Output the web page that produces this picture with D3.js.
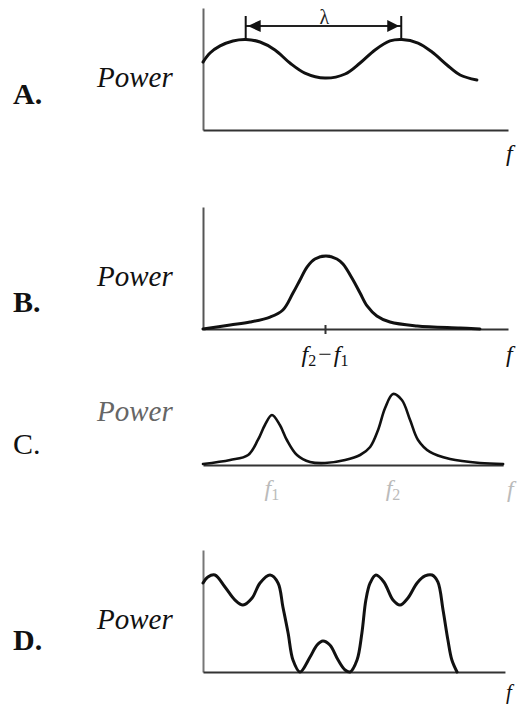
<!DOCTYPE html>
<html><head><meta charset="utf-8">
<script src="https://cdn.jsdelivr.net/npm/d3@7"></script>
<style>
html,body{margin:0;padding:0;background:#fff;}
svg{display:block;}
</style></head><body>
<svg id="chart" width="517" height="704"></svg>
<script>
// ---- data: frequency (arbitrary units, 0–100) and relative power (0–100) ----

// A. broad spectrum with a periodic ripple of wavelength λ
const freqA  = [0, 2.3, 5.6, 9.8, 14.1, 18.7, 23.6, 28.5, 33.4, 40, 46.6, 51.5, 56.4, 61.3, 65.2, 70.5, 75.1, 80, 84.3, 89.8];
const powerA = [55.7, 63.1, 68.9, 73.0, 74.2, 72.1, 65.6, 54.9, 46.7, 42.6, 45.9, 54.9, 65.6, 73.0, 74.2, 71.3, 63.9, 53.3, 45.1, 41.0];
const lambdaSpan = [14, 65];

// B. single peak at the difference frequency f2 − f1
const freqB  = [0, 8.9, 15.4, 22.0, 26.2, 29.5, 31.8, 34.1, 36.7, 40.3, 43.9, 45.9, 49.2, 51.5, 53.8, 57.0, 61.3, 70.2, 84.3, 90.8];
const powerB = [0, 3.3, 5.7, 9.8, 15.6, 29.5, 40.2, 50.8, 57.4, 59.8, 57.4, 53.3, 40.2, 29.5, 18.9, 10.7, 5.7, 2.5, 0.8, 0];
const ticksB = [40];

// C. two source lines at f1 and f2
const freqC  = [0, 8.9, 14.8, 18.0, 20.3, 22.6, 25.2, 27.5, 30.8, 35.1, 40.0, 46.6, 51.5, 54.8, 57.4, 59.7, 62.3, 65.2, 67.9, 70.5, 74.4, 81.0, 90.8, 98.4];
const powerC = [0.8, 4.1, 8.2, 20.5, 32.8, 41.0, 32.8, 20.5, 8.2, 2.5, 1.6, 4.1, 8.2, 14.8, 28.7, 46.7, 58.2, 53.3, 36.9, 20.5, 10.7, 4.9, 1.6, 0.8];
const ticksC = [22.6, 62.3];

// D. two ripple bands separated by a small central bump
const freqD  = [0, 1.6, 3.9, 7.2, 10.5, 13.1, 16.1, 18.7, 22.0, 24.6, 26.2, 27.9, 29.5, 31.8, 35.1, 37.4, 39.3, 41.6, 44.3, 46.6, 48.2, 50.5, 52.1, 53.4, 54.8, 56.7, 59.3, 62.3, 64.6, 67.2, 70.2, 72.8, 75.1, 77.0, 78.7, 80.3, 81.6, 83.3];
const powerD = [73.0, 77.9, 79.5, 69.7, 59.0, 54.9, 60.7, 73.0, 79.5, 73.0, 53.3, 32.0, 9.8, 0, 12.3, 22.1, 25.4, 22.1, 9.8, 1.6, 0, 9.8, 32.0, 59.0, 73.0, 79.5, 73.8, 59.0, 54.9, 60.7, 73.0, 78.7, 79.5, 73.8, 50.8, 26.2, 9.8, 0];

// labels
const panelLetters = ["A.", "B.", "C.", "D."];
const yLabel = "Power";
const xLabel = "f";
const lambdaLabel = "λ";

// ---- layout ----
const svg = d3.select("#chart");
const font = "'Liberation Serif', 'DejaVu Serif', serif";
const x = d3.scaleLinear().domain([0, 100]).range([203, 508]);
const panelH = 122;

const panels = [
  {letter: panelLetters[0], f: freqA, p: powerA, axisY: 130, yAxis: true, axisEnd: 100, bold: true,
   letterY: 104, labelY: 87, fY: 161, fX: 506, labelColor: "#111", yAxisColor: "#666"},
  {letter: panelLetters[1], f: freqB, p: powerB, axisY: 329, yAxis: true, axisEnd: 100, bold: true,
   letterY: 312, labelY: 286, fY: 362, fX: 506, labelColor: "#111", yAxisColor: "#555"},
  {letter: panelLetters[2], f: freqC, p: powerC, axisY: 465, yAxis: false, axisEnd: 98.4, bold: false,
   letterY: 454, labelY: 421, fY: 497, fX: 507, labelColor: "#666", yAxisColor: "#555"},
  {letter: panelLetters[3], f: freqD, p: powerD, axisY: 672, yAxis: true, axisEnd: 99, bold: true,
   letterY: 650, labelY: 629, fY: 699, fX: 506, labelColor: "#111", yAxisColor: "#777"}
];

panels.forEach((pn, i) => {
  const g = svg.append("g");
  const y = d3.scaleLinear().domain([0, 100]).range([pn.axisY, pn.axisY - panelH]);
  pn.y = y; pn.g = g;

  // y axis (line only)
  if (pn.yAxis) {
    const ya = g.append("g").attr("transform", `translate(${x(0)},0)`)
      .call(d3.axisLeft(y).tickValues([]).tickSizeOuter(0));
    ya.select(".domain").attr("stroke", pn.yAxisColor).attr("stroke-width", 2);
  }

  // x axis
  const xa = d3.scaleLinear().domain([0, pn.axisEnd]).range([x(0), x(pn.axisEnd)]);
  const xg = g.append("g").attr("transform", `translate(0,${pn.axisY})`)
    .call(d3.axisBottom(xa).tickValues(i === 1 ? ticksB : []).tickSize(5).tickSizeOuter(0).tickFormat(""));
  xg.select(".domain").attr("stroke", "#333").attr("stroke-width", 2);
  xg.selectAll(".tick line").attr("stroke", "#333").attr("stroke-width", 2).attr("y1", -4);

  // spectrum curve
  const pts = pn.f.map((f, k) => ({f, p: pn.p[k]}));
  const line = d3.line().x(d => x(d.f)).y(d => y(d.p)).curve(d3.curveCatmullRom.alpha(0.5));
  g.append("path").datum(pts).attr("d", line)
    .attr("fill", "none").attr("stroke", "#111")
    .attr("stroke-width", i === 2 ? 2.6 : 3).attr("stroke-linejoin", "round").attr("stroke-linecap", "round");

  // panel letter
  g.append("text").attr("x", 13).attr("y", pn.letterY)
    .attr("font-family", font).attr("font-size", 30)
    .attr("font-weight", pn.bold ? "bold" : "normal").attr("fill", "#111")
    .text(pn.letter);

  // y label
  g.append("text").attr("x", 97).attr("y", pn.labelY)
    .attr("font-family", font).attr("font-size", 29).attr("font-style", "italic")
    .attr("fill", pn.labelColor).text(yLabel);

  // x label
  g.append("text").attr("x", pn.fX).attr("y", pn.fY)
    .attr("font-family", font).attr("font-size", i === 3 ? 21 : 24).attr("font-style", "italic")
    .attr("fill", i === 2 ? "#bbb" : "#111").text(xLabel);
});

// wavelength marker on panel A
{
  const pA = panels[0];
  const g = pA.g;
  const ay = 26;
  const x0 = x(lambdaSpan[0]), x1 = x(lambdaSpan[1]);
  g.append("line").attr("x1", x0).attr("x2", x1).attr("y1", ay).attr("y2", ay)
    .attr("stroke", "#222").attr("stroke-width", 1.8);
  [x0, x1].forEach(xx => g.append("line").attr("x1", xx).attr("x2", xx).attr("y1", 16).attr("y2", 39)
    .attr("stroke", "#111").attr("stroke-width", 2));
  g.append("path").attr("d", `M${x0 + 2},${ay}L${x0 + 15},${ay - 6}L${x0 + 15},${ay + 6}Z`).attr("fill", "#111");
  g.append("path").attr("d", `M${x1 - 2},${ay}L${x1 - 14},${ay - 6}L${x1 - 14},${ay + 6}Z`).attr("fill", "#111");
  g.append("text").attr("x", (x0 + x1) / 2 + 1).attr("y", 24).attr("text-anchor", "middle")
    .attr("font-family", font).attr("font-size", 20).attr("fill", "#222").text(lambdaLabel);
}

// difference-frequency label on panel B
{
  const pB = panels[1];
  const t = pB.g.append("text").attr("x", x(ticksB[0])).attr("y", 362).attr("text-anchor", "middle")
    .attr("font-family", font).attr("font-size", 24).attr("fill", "#111");
  t.append("tspan").attr("font-style", "italic").text("f");
  t.append("tspan").attr("font-size", 16).attr("dy", 4).text("2");
  t.append("tspan").attr("dy", -4).attr("dx", 2).text("−");
  t.append("tspan").attr("font-style", "italic").attr("dx", 2).text("f");
  t.append("tspan").attr("font-size", 16).attr("dy", 4).text("1");
}

// source-line labels on panel C (faint)
{
  const pC = panels[2];
  ticksC.forEach((tv, k) => {
    const t = pC.g.append("text").attr("x", x(tv)).attr("y", 496).attr("text-anchor", "middle")
      .attr("font-family", font).attr("font-size", 24).attr("fill", "#bbb");
    t.append("tspan").attr("font-style", "italic").text("f");
    t.append("tspan").attr("font-size", 16).attr("dy", 4).text(String(k + 1));
  });
}
</script>
</body></html>
